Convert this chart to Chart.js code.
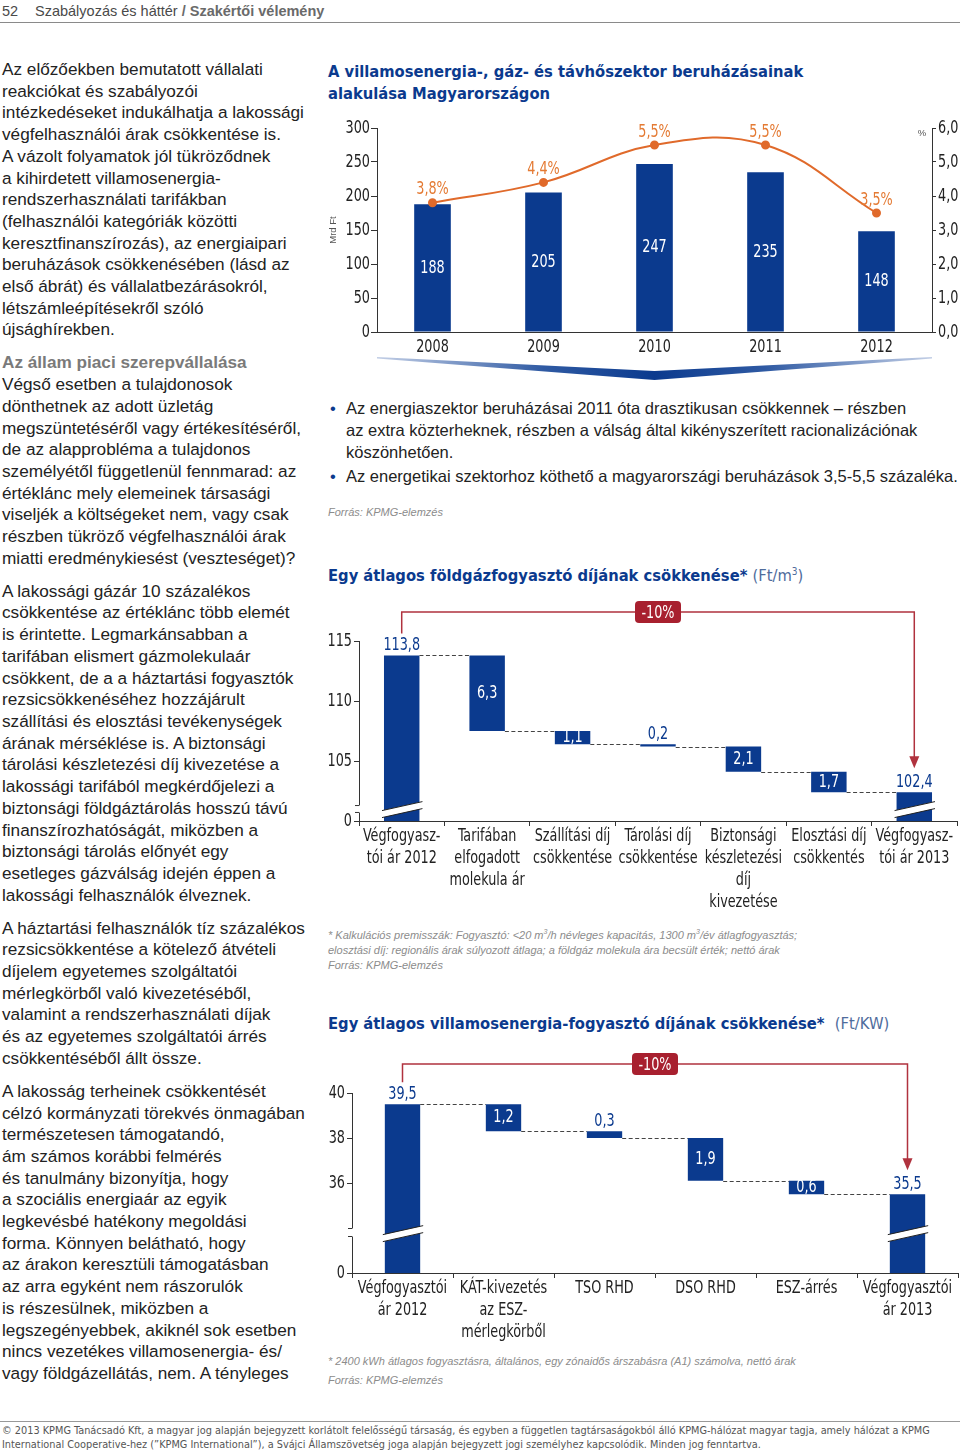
<!DOCTYPE html>
<html lang="hu">
<head>
<meta charset="utf-8">
<title>Szabályozás és háttér / Szakértői vélemény</title>
<script src="https://cdn.jsdelivr.net/npm/chart.js@4.4.1/dist/chart.umd.min.js"></script>
<style>
  body { margin: 0; background: #fff; }
  #lap { position: relative; width: 960px; height: 1451px; overflow: hidden;
         font-family: 'Liberation Sans', Arial, sans-serif; color: #222; }
  .abs { position: absolute; white-space: nowrap; }
  .keskeny { font-family: 'Liberation Sans Narrow', 'DejaVu Sans Condensed', 'Arial Narrow', sans-serif; }
  #fejlec { left: 2px; top: 2px; font-size: 14.5px; line-height: 18px; color: #4a4a4a; }
  #fejlec .oldal { display: inline-block; width: 33px; }
  #fejlec b { color: #6a6a6a; }
  #fejlecVonal { left: 0; top: 22px; width: 960px; height: 1px; background: #8a8a8a; }
  #szoveg { left: 2px; top: 59px; width: 315px; font-size: 17.2px; line-height: 21.7px; }
  #szoveg p { margin: 0 0 11.3px 0; }
  #szoveg h4 { margin: 0; font-size: 17.2px; line-height: 21.7px; color: #7a7a7a; }
  .cim { left: 328px; font-size: 16.4px; line-height: 22px; font-weight: bold; color: #0b3a8e; }
  .cim span { font-weight: normal; color: #4f6c9c; }
  #pontok { left: 328px; top: 397px; font-size: 16.5px; line-height: 22px; }
  #pontok div { position: relative; padding-left: 18px; }
  #pontok div + div { margin-top: 2px; }
  #pontok div::before { content: '•'; position: absolute; left: 2px; color: #0b3a8e; }
  .forras { left: 328px; font-size: 11px; line-height: 15px; font-style: italic; color: #8c8c8c; }
  #labVonal { left: 0; top: 1421px; width: 960px; height: 1px; background: #999; }
  #lablec { left: 2px; top: 1424px; font-size: 11px; line-height: 14px; color: #555; }
</style>
</head>
<body>
<div id="lap">
  <div id="fejlec" class="abs"><span class="oldal">52</span>Szabályozás és háttér <b>/ Szakértői vélemény</b></div>
  <div id="fejlecVonal" class="abs"></div>

  <div id="szoveg" class="abs">
    <p>Az előzőekben bemutatott vállalati<br>reakciókat és szabályozói<br>intézkedéseket indukálhatja a lakossági<br>végfelhasználói árak csökkentése is.<br>A vázolt folyamatok jól tükröződnek<br>a kihirdetett villamosenergia-<br>rendszerhasználati tarifákban<br>(felhasználói kategóriák közötti<br>keresztfinanszírozás), az energiaipari<br>beruházások csökkenésében (lásd az<br>első ábrát) és vállalatbezárásokról,<br>létszámleépítésekről szóló<br>újsághírekben.</p>
    <h4>Az állam piaci szerepvállalása</h4>
    <p>Végső esetben a tulajdonosok<br>dönthetnek az adott üzletág<br>megszüntetéséről vagy értékesítéséről,<br>de az alapprobléma a tulajdonos<br>személyétől függetlenül fennmarad: az<br>értéklánc mely elemeinek társasági<br>viseljék a költségeket nem, vagy csak<br>részben tükröző végfelhasználói árak<br>miatti eredménykiesést (veszteséget)?</p>
    <p>A lakossági gázár 10 százalékos<br>csökkentése az értéklánc több elemét<br>is érintette. Legmarkánsabban a<br>tarifában elismert gázmolekulaár<br>csökkent, de a a háztartási fogyasztók<br>rezsicsökkenéséhez hozzájárult<br>szállítási és elosztási tevékenységek<br>árának mérséklése is. A biztonsági<br>tárolási készletezési díj kivezetése a<br>lakossági tarifából megkérdőjelezi a<br>biztonsági földgáztárolás hosszú távú<br>finanszírozhatóságát, miközben a<br>biztonsági tárolás előnyét egy<br>esetleges gázválság idején éppen a<br>lakossági felhasználók élveznek.</p>
    <p>A háztartási felhasználók tíz százalékos<br>rezsicsökkentése a kötelező átvételi<br>díjelem egyetemes szolgáltatói<br>mérlegkörből való kivezetéséből,<br>valamint a rendszerhasználati díjak<br>és az egyetemes szolgáltatói árrés<br>csökkentéséből állt össze.</p>
    <p>A lakosság terheinek csökkentését<br>célzó kormányzati törekvés önmagában<br>természetesen támogatandó,<br>ám számos korábbi felmérés<br>és tanulmány bizonyítja, hogy<br>a szociális energiaár az egyik<br>legkevésbé hatékony megoldási<br>forma. Könnyen belátható, hogy<br>az árakon keresztüli támogatásban<br>az arra egyként nem rászorulók<br>is részesülnek, miközben a<br>legszegényebbek, akiknél sok esetben<br>nincs vezetékes villamosenergia- és/<br>vagy földgázellátás, nem. A tényleges</p>
  </div>

  <div class="abs cim keskeny" style="top:61px">A villamosenergia-, gáz- és távhőszektor beruházásainak<br>alakulása Magyarországon</div>
  <canvas id="beruhazas" class="abs" width="640" height="280" style="left:320px;top:110px"></canvas>
  <div id="pontok" class="abs">
    <div>Az energiaszektor beruházásai 2011 óta drasztikusan csökkennek – részben<br>az extra közterheknek, részben a válság által kikényszerített racionalizációnak<br>köszönhetően.</div>
    <div>Az energetikai szektorhoz köthető a magyarországi beruházások 3,5-5,5 százaléka.</div>
  </div>
  <div class="abs forras" style="top:505px">Forrás: KPMG-elemzés</div>

  <div class="abs cim keskeny" style="top:561px">Egy átlagos földgázfogyasztó díjának csökkenése* <span>(Ft/m<sup style="font-size:10px">3</sup>)</span></div>
  <canvas id="gaz" class="abs" width="640" height="320" style="left:320px;top:600px"></canvas>
  <div class="abs forras" style="top:924px">* Kalkulációs premisszák: Fogyasztó: &lt;20 m<sup style="font-size:7px">3</sup>/h névleges kapacitás, 1300 m<sup style="font-size:7px">3</sup>/év átlagfogyasztás;<br>elosztási díj: regionális árak súlyozott átlaga; a földgáz molekula ára becsült érték; nettó árak</div>
  <div class="abs forras" style="top:958px">Forrás: KPMG-elemzés</div>

  <div class="abs cim keskeny" style="top:1013px">Egy átlagos villamosenergia-fogyasztó díjának csökkenése*&nbsp;&nbsp;<span>(Ft/KW)</span></div>
  <canvas id="villany" class="abs" width="640" height="300" style="left:320px;top:1050px"></canvas>
  <div class="abs forras" style="top:1354px">* 2400 kWh átlagos fogyasztásra, általános, egy zónaidős árszabásra (A1) számolva, nettó árak</div>
  <div class="abs forras" style="top:1373px">Forrás: KPMG-elemzés</div>

  <div id="labVonal" class="abs"></div>
  <div id="lablec" class="abs keskeny"><span id="lablecElso">© 2013 KPMG Tanácsadó Kft, a magyar jog alapján bejegyzett korlátolt felelősségű társaság, és egyben a független tagtársaságokból álló KPMG-hálózat magyar tagja, amely hálózat a KPMG</span><br>International Cooperative-hez (”KPMG International”), a Svájci Államszövetség joga alapján bejegyzett jogi személyhez kapcsolódik. Minden jog fenntartva.</div>
</div>

<script>
// --- adatok ---
const beruhazasEvek = ['2008', '2009', '2010', '2011', '2012'];
const beruhazasMrdFt = [188, 205, 247, 235, 148];
const beruhazasArany = [3.8, 4.4, 5.5, 5.5, 3.5];

const gazKategoriak = [
    ['Végfogyasz-', 'tói ár 2012'],
    ['Tarifában', 'elfogadott', 'molekula ár'],
    ['Szállítási díj', 'csökkentése'],
    ['Tárolási díj', 'csökkentése'],
    ['Biztonsági', 'készletezési', 'díj', 'kivezetése'],
    ['Elosztási díj', 'csökkentés'],
    ['Végfogyasz-', 'tói ár 2013']
];
const gazKezdo = 113.8;
const gazCsokkenesek = [6.3, 1.1, 0.2, 2.1, 1.7];
const gazZaro = 102.4;
const gazTickek = [100, 105, 110, 115];
const gazTickFeliratok = ['0', '105', '110', '115'];

const villanyKategoriak = [
    ['Végfogyasztói', 'ár 2012'],
    ['KÁT-kivezetés', 'az ESZ-', 'mérlegkörből'],
    'TSO RHD',
    'DSO RHD',
    'ESZ-árrés',
    ['Végfogyasztói', 'ár 2013']
];
const villanyKezdo = 39.5;
const villanyCsokkenesek = [1.2, 0.3, 1.9, 0.6];
const villanyZaro = 35.5;
const villanyTickek = [32, 36, 38, 40];
const villanyTickFeliratok = ['0', '36', '38', '40'];

// --- stílus ---
const KESKENY = "'Liberation Sans Narrow', 'DejaVu Sans Condensed', 'Arial Narrow', sans-serif";
const BETU = `18px ${KESKENY}`;
const SZUKITES = 0.79;   // a keskeny betűtípus utánzása
const KEK = '#0b3a8e';
const NARANCS = '#e06a2b';
const PIROS = '#a8202f';
const TENGELY = '#333';

Chart.defaults.font.family = KESKENY;
Chart.defaults.font.size = 17;
Chart.defaults.color = '#222';
Chart.defaults.animation = false;
Chart.defaults.responsive = false;
Chart.defaults.plugins.legend.display = false;
Chart.defaults.plugins.tooltip.enabled = false;

const vesszo = v => v.toFixed(1).replace('.', ',');

// vízszintesen szűkített szöveg
function keskenyIr (ctx, szoveg, x, y) {
    ctx.save();
    ctx.translate(x, y);
    ctx.scale(SZUKITES, 1);
    ctx.fillText(szoveg, 0, 0);
    ctx.restore();
}

// tengelyfeliratok a skálák saját tickjeiből, szűkítve
Chart.register({
    id: 'szukitettTickek',
    afterDraw (chart) {
        const ctx = chart.ctx;
        ctx.save();
        ctx.fillStyle = '#222';
        ctx.font = BETU;
        ctx.textBaseline = 'middle';
        Object.values(chart.scales).forEach(s => {
            s.ticks.forEach((t, i) => {
                const sorok = [].concat(t.label);
                const p = s.getPixelForTick(i);
                if (s.isHorizontal()) {
                    ctx.textAlign = 'center';
                    sorok.forEach((sor, k) => keskenyIr(ctx, sor, p, s.top + 15 + k * 22));
                } else if (s.position === 'left') {
                    ctx.textAlign = 'right';
                    keskenyIr(ctx, sorok[0], s.right - 7, p);
                } else {
                    ctx.textAlign = 'left';
                    keskenyIr(ctx, sorok[0], s.left + 6, p);
                }
            });
        });
        ctx.restore();
    }
});

// lépcsős (waterfall) oszlopok: [alja, teteje]
function lepcsok (alap, kezdo, csokkenesek, zaro) {
    const oszlopok = [[alap, kezdo]];
    let szint = kezdo;
    for (const cs of csokkenesek) {
        oszlopok.push([szint - cs, szint]);
        szint -= cs;
    }
    oszlopok.push([alap, zaro]);
    return oszlopok;
}

// első ábra feliratai
const beruhazasRajz = {
    id: 'beruhazasRajz',
    afterDatasetsDraw (chart) {
        const { ctx, chartArea: a } = chart;
        ctx.save();
        ctx.textAlign = 'center';
        ctx.textBaseline = 'middle';
        ctx.font = BETU;
        ctx.fillStyle = '#fff';
        chart.getDatasetMeta(1).data.forEach((b, i) => {
            keskenyIr(ctx, String(beruhazasMrdFt[i]), b.x, (b.y + b.base) / 2);
        });
        ctx.fillStyle = '#e47a33';
        chart.getDatasetMeta(0).data.forEach((p, i) => {
            keskenyIr(ctx, vesszo(beruhazasArany[i]) + '%', p.x, p.y - 13);
        });

        // kék ív az évek alatt
        const yt = a.bottom + 25;
        const kozep = (a.left + a.right) / 2;
        const g = ctx.createLinearGradient(a.left, 0, a.right, 0);
        g.addColorStop(0, '#c3cfe6');
        g.addColorStop(0.3, '#2f5aa3');
        g.addColorStop(0.5, KEK);
        g.addColorStop(0.7, '#2f5aa3');
        g.addColorStop(1, '#c3cfe6');
        ctx.fillStyle = g;
        ctx.beginPath();
        ctx.moveTo(a.left, yt);
        ctx.lineTo(kozep, yt + 14);
        ctx.lineTo(a.right, yt);
        ctx.lineTo(a.right, yt + 1.5);
        ctx.lineTo(kozep, yt + 23);
        ctx.lineTo(a.left, yt + 1.5);
        ctx.closePath();
        ctx.fill();

        ctx.fillStyle = '#555';
        ctx.font = "9.5px 'Liberation Sans', sans-serif";
        ctx.fillText('%', a.right - 10, a.top + 5);
        ctx.translate(13, (a.top + a.bottom) / 2);
        ctx.rotate(-Math.PI / 2);
        ctx.fillText('Mrd Ft', 0, 0);
        ctx.restore();
    }
};

new Chart(document.getElementById('beruhazas'), {
    data: {
        labels: beruhazasEvek,
        datasets: [
            {
                type: 'line',
                data: beruhazasArany,
                yAxisID: 'y1',
                borderColor: NARANCS,
                backgroundColor: NARANCS,
                borderWidth: 2,
                pointRadius: 3.5,
                tension: 0.4,
                order: 0
            },
            {
                type: 'bar',
                data: beruhazasMrdFt,
                yAxisID: 'y',
                backgroundColor: KEK,
                barPercentage: 0.33,
                categoryPercentage: 1,
                order: 1
            }
        ]
    },
    options: {
        layout: { padding: { top: 18, right: 0, bottom: 0, left: 0 } },
        scales: {
            x: {
                grid: { display: false, drawTicks: false },
                border: { color: TENGELY },
                ticks: { display: false },
                afterFit: s => { s.height = 58; }
            },
            y: {
                position: 'left',
                min: 0,
                max: 300,
                ticks: { display: false, stepSize: 50 },
                grid: { drawOnChartArea: false, tickLength: 6, color: TENGELY },
                border: { color: TENGELY },
                afterFit: s => { s.width = 57; }
            },
            y1: {
                position: 'right',
                min: 0,
                max: 6,
                ticks: { display: false, stepSize: 1, callback: v => vesszo(v) },
                grid: { drawOnChartArea: false, tickLength: 4, color: TENGELY },
                border: { color: TENGELY },
                afterFit: s => { s.width = 28; }
            }
        }
    },
    plugins: [beruhazasRajz]
});

// lépcsős ábrák rajzai: összekötők, törések, értékek, -10% zárójel
const lepcsoRajz = {
    id: 'lepcso',
    afterDatasetsDraw (chart, args, o) {
        const { ctx, chartArea: a } = chart;
        const y = chart.scales.y;
        const oszl = chart.getDatasetMeta(0).data;
        const ert = chart.data.datasets[0].data;
        const utolso = oszl.length - 1;
        const teto = i => Math.min(oszl[i].y, oszl[i].base);
        const alj = i => Math.max(oszl[i].y, oszl[i].base);
        ctx.save();

        // szaggatott összekötők
        ctx.strokeStyle = '#444';
        ctx.lineWidth = 1;
        ctx.setLineDash([4, 2.5]);
        for (let i = 0; i < utolso; i++) {
            const szint = i === 0 ? ert[0][1] : ert[i][0];
            const py = Math.round(y.getPixelForValue(szint)) + 0.5;
            ctx.beginPath();
            ctx.moveTo(oszl[i].x + oszl[i].width / 2, py);
            ctx.lineTo(oszl[i + 1].x - oszl[i + 1].width / 2, py);
            ctx.stroke();
        }
        ctx.setLineDash([]);

        // oszloptörések az első és az utolsó oszlopon
        const tk = y.getPixelForValue(o.tores);
        for (const b of [oszl[0], oszl[utolso]]) {
            const x0 = b.x - b.width / 2 - 2;
            const x1 = b.x + b.width / 2 + 3;
            const y0 = tk + 4.5;
            const y1 = tk - 4.5;
            ctx.fillStyle = '#fff';
            ctx.beginPath();
            ctx.moveTo(x0, y0 - 3.5);
            ctx.lineTo(x1, y1 - 3.5);
            ctx.lineTo(x1, y1 + 3.5);
            ctx.lineTo(x0, y0 + 3.5);
            ctx.closePath();
            ctx.fill();
            ctx.strokeStyle = '#222';
            ctx.beginPath();
            ctx.moveTo(x0, y0 - 3.5);
            ctx.lineTo(x1, y1 - 3.5);
            ctx.moveTo(x0, y0 + 3.5);
            ctx.lineTo(x1, y1 + 3.5);
            ctx.stroke();
        }

        // tengelytörés
        const ga = y.getPixelForValue(o.tengelyTores[0]);
        const gf = y.getPixelForValue(o.tengelyTores[1]);
        ctx.fillStyle = '#fff';
        ctx.fillRect(a.left - 2, gf, 4, ga - gf);
        ctx.strokeStyle = TENGELY;
        ctx.beginPath();
        ctx.moveTo(a.left - 4, gf + 0.5);
        ctx.lineTo(a.left + 0.5, gf + 0.5);
        ctx.moveTo(a.left - 4, ga - 0.5);
        ctx.lineTo(a.left + 0.5, ga - 0.5);
        ctx.stroke();

        // értékek
        ctx.font = BETU;
        ctx.textAlign = 'center';
        ctx.textBaseline = 'middle';
        oszl.forEach((b, i) => {
            const v = i === 0 ? o.kezdo : i === utolso ? o.zaro : o.csokkenesek[i - 1];
            if (o.belul[i]) {
                ctx.fillStyle = '#fff';
                keskenyIr(ctx, vesszo(v), b.x, (teto(i) + alj(i)) / 2);
            } else {
                ctx.fillStyle = KEK;
                keskenyIr(ctx, vesszo(v), b.x, teto(i) - 10);
            }
        });

        // -10% zárójel nyíllal
        const xb = oszl[0].x;
        const xj = oszl[utolso].x;
        const yz = a.top - 29;
        const hegy = teto(utolso) - 24;
        ctx.strokeStyle = '#b0323e';
        ctx.lineWidth = 1.5;
        ctx.beginPath();
        ctx.moveTo(xb, teto(0) - 22);
        ctx.lineTo(xb, yz);
        ctx.lineTo(xj, yz);
        ctx.lineTo(xj, hegy - 10);
        ctx.stroke();
        ctx.fillStyle = '#b0323e';
        ctx.beginPath();
        ctx.moveTo(xj - 5, hegy - 12);
        ctx.lineTo(xj + 5, hegy - 12);
        ctx.lineTo(xj, hegy);
        ctx.closePath();
        ctx.fill();

        const valtozas = Math.round((o.zaro - o.kezdo) / o.kezdo * 100);
        const kx = (xb + xj) / 2;
        ctx.fillStyle = PIROS;
        ctx.beginPath();
        ctx.roundRect(kx - 23, yz - 11, 46, 22, 4);
        ctx.fill();
        ctx.fillStyle = '#fff';
        keskenyIr(ctx, valtozas + '%', kx, yz + 1);
        ctx.restore();
    }
};

function lepcsosAbra (id, kategoriak, kezdo, csokkenesek, zaro, tickek, tickFeliratok, beallitas) {
    new Chart(document.getElementById(id), {
        type: 'bar',
        data: {
            labels: kategoriak,
            datasets: [{
                data: lepcsok(tickek[0], kezdo, csokkenesek, zaro),
                backgroundColor: KEK,
                barPercentage: beallitas.oszlopSzel,
                categoryPercentage: 1
            }]
        },
        options: {
            layout: { padding: { top: beallitas.felso, right: beallitas.jobb, bottom: 0, left: 0 } },
            scales: {
                x: {
                    grid: { drawOnChartArea: false, tickLength: 5, color: TENGELY },
                    border: { color: TENGELY },
                    ticks: { display: false, autoSkip: false },
                    afterFit: s => { s.height = beallitas.xMagassag; }
                },
                y: {
                    min: tickek[0],
                    max: tickek[tickek.length - 1],
                    afterBuildTicks: s => { s.ticks = tickek.map(v => ({ value: v })); },
                    ticks: { display: false, callback: v => tickFeliratok[tickek.indexOf(v)] },
                    grid: { drawOnChartArea: false, tickLength: 5, color: TENGELY },
                    border: { color: TENGELY },
                    afterFit: s => { s.width = beallitas.ySzel; }
                }
            },
            plugins: {
                lepcso: {
                    kezdo: kezdo,
                    csokkenesek: csokkenesek,
                    zaro: zaro,
                    belul: beallitas.belul,
                    tores: beallitas.tores,
                    tengelyTores: beallitas.tengelyTores
                }
            }
        },
        plugins: [lepcsoRajz]
    });
}

lepcsosAbra('gaz', gazKategoriak, gazKezdo, gazCsokkenesek, gazZaro, gazTickek, gazTickFeliratok, {
    oszlopSzel: 0.415, felso: 41, jobb: 3, xMagassag: 99, ySzel: 39,
    belul: [false, true, true, false, true, true, false],
    tores: 100.95, tengelyTores: [100.67, 101.33]
});

lepcsosAbra('villany', villanyKategoriak, villanyKezdo, villanyCsokkenesek, villanyZaro, villanyTickek, villanyTickFeliratok, {
    oszlopSzel: 0.35, felso: 43, jobb: 2, xMagassag: 77, ySzel: 32,
    belul: [false, true, false, true, true, false],
    tores: 33.75, tengelyTores: [33.6, 34.0]
});

// lábléc első sora kb. 928 px széles
const lablec = document.getElementById('lablec');
const elsoSor = document.getElementById('lablecElso');
const meret = parseFloat(getComputedStyle(lablec).fontSize);
lablec.style.fontSize = (meret * 928 / elsoSor.getBoundingClientRect().width) + 'px';
</script>
</body>
</html>
